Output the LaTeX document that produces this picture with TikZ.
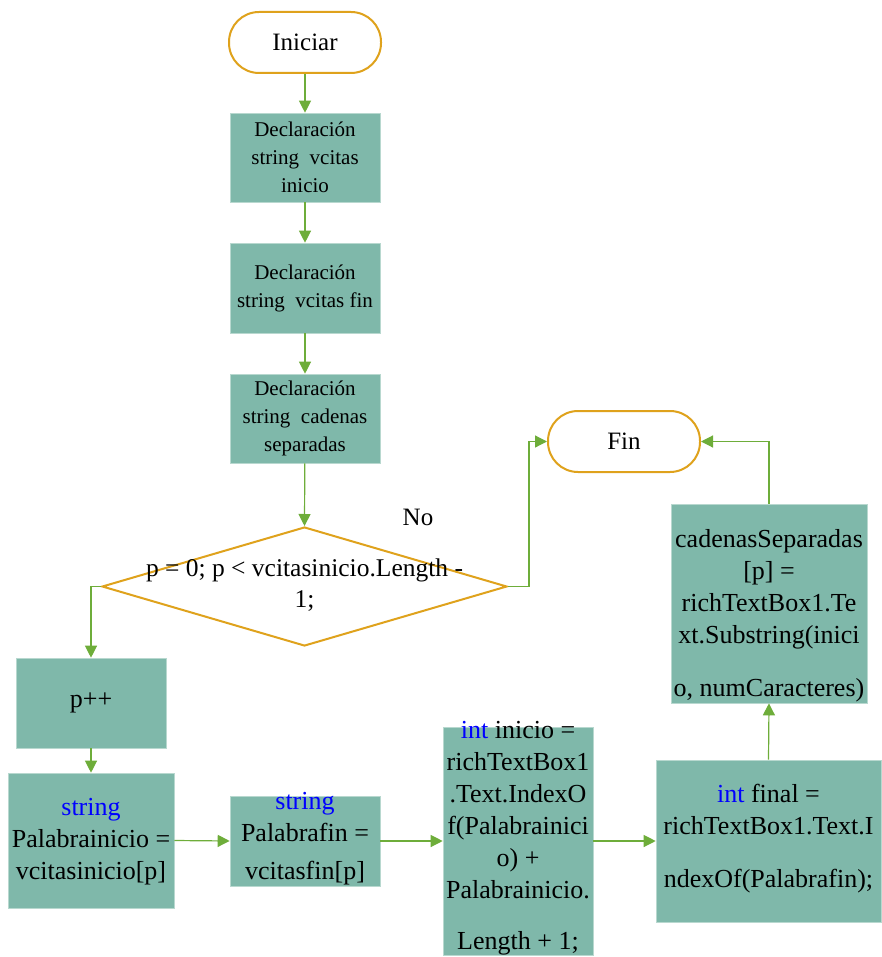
\documentclass[tikz,border=0pt]{standalone}
\usepackage{fontspec}
\setmainfont{Liberation Serif}
\usetikzlibrary{shapes.geometric,arrows.meta}
\definecolor{boxfill}{HTML}{7FB8AA}
\definecolor{boxedge}{HTML}{B8D8CF}
\definecolor{termedge}{HTML}{DFA21C}
\definecolor{arrowgreen}{HTML}{6EAD3A}
\definecolor{kw}{HTML}{0000FF}
\begin{document}
\begin{tikzpicture}[x=1pt,y=-1pt,
  box/.style={rectangle, fill=boxfill, draw=boxedge, line width=0.6pt, inner sep=0pt},
  term/.style={rectangle, rounded corners=30pt, draw=termedge, line width=2pt, fill=white,
    minimum width=152pt, minimum height=61pt, font=\fontsize{25}{30}\selectfont},
  txt/.style={align=center, inner sep=0pt, font=\fontsize{26}{32}\selectfont},
  smalltxt/.style={align=center, inner sep=0pt, font=\fontsize{21}{28}\selectfont},
  flow/.style={draw=arrowgreen, line width=1.2pt, -{Triangle[length=12pt,width=12pt]}}]
\useasboundingbox (0,0) rectangle (882,957);

% terminals
\node[term] (ini) at (305,42.5) {Iniciar};
\node[term] (fin) at (624,441.5) {Fin};

% declaration boxes
\node[box, minimum width=150pt, minimum height=89pt] (b1) at (305,157.5) {};
\node[smalltxt] (t1) at (b1.center) {Declaración\\string\ \ vcitas\\inicio};
\node[box, minimum width=150pt, minimum height=90pt] (b2) at (305,288) {};
\node[smalltxt] (t2) at (b2.center) {Declaración\\string\ \ vcitas fin};
\node[box, minimum width=150pt, minimum height=89pt] (b3) at (305,418.5) {};
\node[smalltxt] (t3) at (b3.center) {Declaración\\string\ \ cadenas\\separadas};

% decision
\node[diamond, draw=termedge, line width=2pt, fill=white, inner sep=0pt,
  minimum width=405pt, minimum height=119pt] (dec) at (304.5,586.5) {};
\node[txt, font=\fontsize{25.5}{31}\selectfont] (tdec) at ([yshift=1pt]dec.center) {p = 0; p < vcitasinicio.Length -\\1;};
\node[inner sep=0pt, font=\fontsize{25}{30}\selectfont] (no) at (418,517) {No};

% loop boxes
\node[box, minimum width=150pt, minimum height=90pt] (pp) at (91,703) {};
\node[txt] (tpp) at (pp.center) {p++};
\node[box, minimum width=166pt, minimum height=135pt] (pi) at (91,840.5) {};
\node[txt] (tpi) at ([yshift=-1pt]pi.center) {\textcolor{kw}{string}\\Palabrainicio =\\vcitasinicio[p]};
\node[box, minimum width=150pt, minimum height=90pt] (pf) at (305,841) {};
\node[txt] (tpf) at ([yshift=2pt]pf.center) {\textcolor{kw}{string}\\Palabrafin =\\[6pt]vcitasfin[p]};
\node[box, minimum width=150pt, minimum height=228pt] (ii) at (518,841) {};
\node[txt] (tii) at ([yshift=3pt]ii.center) {\textcolor{kw}{int} inicio =\\richTextBox1\\.Text.IndexO\\f(Palabrainici\\o) +\\Palabrainicio.\\[19pt]Length + 1;};
\node[box, minimum width=225pt, minimum height=162pt] (if) at (768.5,841) {};
\node[txt] (tif) at ([yshift=2pt]if.center) {\textcolor{kw}{int} final =\\richTextBox1.Text.I\\[21pt]ndexOf(Palabrafin);};
\node[box, minimum width=196pt, minimum height=199pt] (cad) at (769,603.5) {};
\node[txt] (tcad) at ([yshift=-12pt]cad.center) {cadenasSeparadas\\{}[p] =\\richTextBox1.Te\\xt.Substring(inici\\[21pt]o, numCaracteres)};

% connectors
\draw[flow] (ini) -- (b1);
\draw[flow] (b1) -- (b2);
\draw[flow] (b2) -- (b3);
\draw[flow] (b3) -- (dec.north);
\draw[flow] (dec.east) -- ++(21,0) |- (fin.west);
\draw[flow] (dec.west) -| (pp.north);
\draw[flow] (pp) -- (pi);
\draw[flow] (pi.east) -- (pf.west);
\draw[flow] (pf.east) -- (ii.west);
\draw[flow] (ii.east) -- (if.west);
\draw[flow] (if.north) -- (cad.south);
\draw[flow] (cad.north) |- (fin.east);
\end{tikzpicture}
\end{document}
